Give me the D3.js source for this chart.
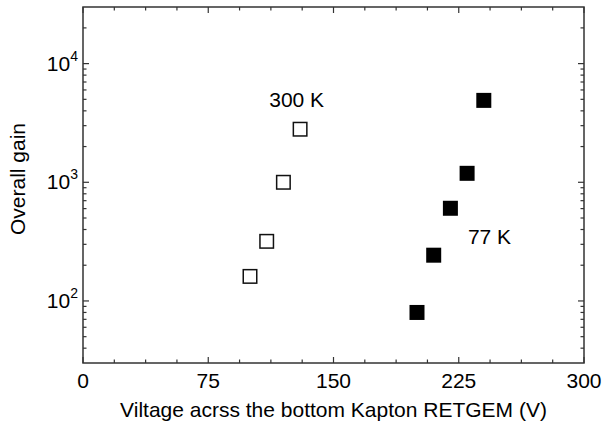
<!DOCTYPE html>
<html>
<head>
<meta charset="utf-8">
<script src="https://cdn.jsdelivr.net/npm/d3@7"></script>
<style>
  html, body { margin: 0; padding: 0; background: #fff; }
  svg { display: block; font-family: "Liberation Sans", Arial, Helvetica, sans-serif; }
</style>
</head>
<body>
<svg id="chart" width="605" height="423"></svg>
<script>
// Gain vs. voltage across the bottom Kapton RETGEM
const voltage300K = [100, 110, 120, 130];
const gain300K    = [161, 318, 1000, 2800];
const voltage77K  = [200, 210, 220, 230, 240];
const gain77K     = [80, 243, 604, 1190, 4900];

const xTicks = [0, 75, 150, 225, 300];
const yDecades = [100, 1000, 10000];
const xDomain = [0, 300];
const yDomain = [30, 30000];

const svg = d3.select("#chart");
const W = 605, H = 423;
const m = { left: 83, right: 21, top: 7, bottom: 60 };
const iw = W - m.left - m.right, ih = H - m.top - m.bottom;

const x = d3.scaleLinear().domain(xDomain).range([0, iw]);
const y = d3.scaleLog().domain(yDomain).range([ih, 0]);

const g = svg.append("g").attr("transform", `translate(${m.left},${m.top})`);
const axisColor = "#333";
const fs = 21;

// minor ticks: x every 18.75 V, y at 2..9 × 10^k
const xMinor = d3.range(0, 300.01, 18.75).filter(v => !xTicks.includes(v));
const yMinor = [];
for (let k = 1; k <= 4; k++) for (let j = 2; j <= 9; j++) {
  const v = j * Math.pow(10, k);
  if (v > yDomain[0] && v < yDomain[1]) yMinor.push(v);
}

const majorLen = 6, minorLen = 3.5;
const ticks = g.append("g").attr("stroke", axisColor).attr("stroke-width", 1.2);
// bottom and top
xTicks.forEach(v => {
  ticks.append("line").attr("x1", x(v)).attr("x2", x(v)).attr("y1", ih).attr("y2", ih - majorLen);
  ticks.append("line").attr("x1", x(v)).attr("x2", x(v)).attr("y1", 0).attr("y2", majorLen);
});
xMinor.forEach(v => {
  ticks.append("line").attr("x1", x(v)).attr("x2", x(v)).attr("y1", ih).attr("y2", ih - minorLen);
  ticks.append("line").attr("x1", x(v)).attr("x2", x(v)).attr("y1", 0).attr("y2", minorLen);
});
// left and right
yDecades.forEach(v => {
  ticks.append("line").attr("y1", y(v)).attr("y2", y(v)).attr("x1", 0).attr("x2", majorLen);
  ticks.append("line").attr("y1", y(v)).attr("y2", y(v)).attr("x1", iw).attr("x2", iw - majorLen);
});
yMinor.forEach(v => {
  ticks.append("line").attr("y1", y(v)).attr("y2", y(v)).attr("x1", 0).attr("x2", minorLen);
  ticks.append("line").attr("y1", y(v)).attr("y2", y(v)).attr("x1", iw).attr("x2", iw - minorLen);
});

// frame
g.append("rect").attr("x", 0).attr("y", 0).attr("width", iw).attr("height", ih)
  .attr("fill", "none").attr("stroke", axisColor).attr("stroke-width", 1.5);

// x tick labels
g.append("g").selectAll("text").data(xTicks).join("text")
  .attr("x", d => x(d)).attr("y", ih + 25)
  .attr("text-anchor", "middle").attr("font-size", fs).attr("fill", "#000")
  .text(d => d);

// y tick labels as 10^n
const yl = g.append("g").selectAll("text").data(yDecades).join("text")
  .attr("x", -5).attr("y", d => y(d) + 7)
  .attr("text-anchor", "end").attr("font-size", fs).attr("fill", "#000");
yl.append("tspan").text("10");
yl.append("tspan").attr("font-size", 14).attr("dy", -10).text(d => Math.round(Math.log10(d)));

// axis titles
svg.append("text").attr("x", m.left + iw / 2).attr("y", 417)
  .attr("text-anchor", "middle").attr("font-size", fs).attr("fill", "#000")
  .text("Viltage acrss the bottom Kapton RETGEM (V)");
svg.append("text")
  .attr("transform", `translate(25,${m.top + ih / 2 - 6}) rotate(-90)`)
  .attr("text-anchor", "middle").attr("font-size", fs).attr("fill", "#000")
  .text("Overall gain");

// markers
const s = 15;
const pts300 = voltage300K.map((v, i) => ({ v, g: gain300K[i] }));
const pts77 = voltage77K.map((v, i) => ({ v, g: gain77K[i] }));

g.append("g").selectAll("rect").data(pts300).join("rect")
  .attr("x", d => x(d.v) - s / 2 + 0.75).attr("y", d => y(d.g) - s / 2 + 0.75)
  .attr("width", s - 1.5).attr("height", s - 1.5)
  .attr("fill", "#fff").attr("stroke", "#111").attr("stroke-width", 1.5);

g.append("g").selectAll("rect").data(pts77).join("rect")
  .attr("x", d => x(d.v) - s / 2).attr("y", d => y(d.g) - s / 2)
  .attr("width", s).attr("height", s)
  .attr("fill", "#000");

// series labels
g.append("text").attr("x", x(111.5)).attr("y", y(4300))
  .attr("font-size", fs).attr("fill", "#000").text("300 K");
g.append("text").attr("x", x(230.5)).attr("y", y(300))
  .attr("font-size", fs).attr("fill", "#000").text("77 K");
</script>
</body>
</html>
